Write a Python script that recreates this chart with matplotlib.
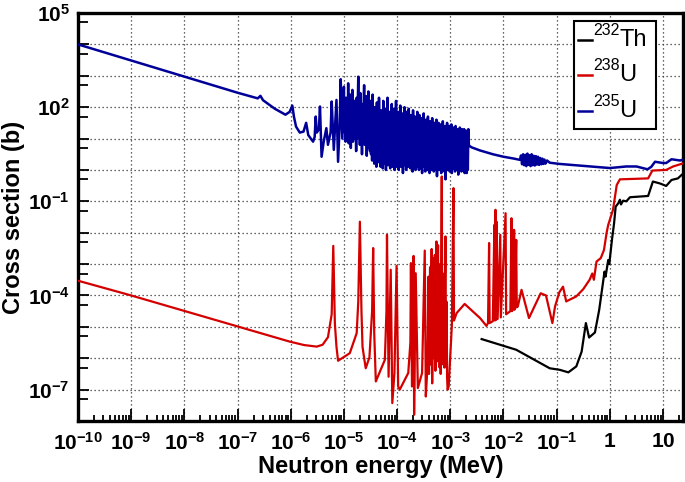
import matplotlib
matplotlib.use('Agg')
import matplotlib.pyplot as plt
import numpy as np
from matplotlib.ticker import FixedLocator, FixedFormatter, NullFormatter
from matplotlib.patches import Rectangle
from matplotlib.lines import Line2D

plt.rcParams['font.family'] = ['Liberation Sans', 'DejaVu Sans']
plt.rcParams['mathtext.fontset'] = 'custom'
plt.rcParams['mathtext.rm'] = 'Liberation Sans'
plt.rcParams['mathtext.bf'] = 'Liberation Sans:bold'
plt.rcParams['mathtext.it'] = 'Liberation Sans:italic'

# ---------------- data: (log10 E[MeV], log10 sigma[b]) ----------------
u235_low = [(-10.0, 4.00), (-7.0, 2.46), (-6.62, 2.28), (-6.57, 2.36), (-6.52, 2.22),
            (-6.30, 1.95), (-6.10, 1.76), (-6.02, 1.85), (-5.97, 2.05), (-5.94, 1.70),
            (-5.90, 1.38), (-5.83, 1.19), (-5.76, 1.22), (-5.71, 1.50), (-5.67, 1.11),
            (-5.58, 0.90), (-5.55, 1.05), (-5.53, 1.70), (-5.51, 1.19), (-5.47, 1.30),
            (-5.45, 2.02), (-5.42, 0.42), (-5.38, 0.90), (-5.33, 1.33), (-5.30, 0.80),
            (-5.25, 1.20), (-5.23, 2.18), (-5.19, 0.64), (-5.14, 2.23), (-5.11, 0.26),
            (-5.08, 1.40), (-5.06, 2.89), (-5.03, 1.00)]

u235_res = [(-5.00, 2.65), (-4.99, 1.2), (-4.98, 2.0), (-4.97, 0.9), (-4.96, 2.3),
            (-4.95, 1.1), (-4.94, 1.9), (-4.93, 1.0), (-4.92, 2.76), (-4.91, 0.85),
            (-4.90, 1.9), (-4.89, 1.2), (-4.88, 2.4), (-4.87, 0.7), (-4.86, 2.0),
            (-4.85, 1.1), (-4.84, 2.55), (-4.83, 0.9), (-4.82, 1.8), (-4.81, 1.0),
            (-4.80, 2.2), (-4.79, 1.2), (-4.78, 1.9), (-4.77, 0.6), (-4.76, 2.3),
            (-4.75, 1.0), (-4.74, 1.9), (-4.73, 2.97), (-4.72, 1.1), (-4.71, 2.0),
            (-4.70, 0.8), (-4.69, 2.45), (-4.68, 1.0), (-4.67, 1.8), (-4.66, 0.5),
            (-4.65, 2.1), (-4.64, 1.05), (-4.63, 1.9), (-4.62, 2.7), (-4.61, 0.8),
            (-4.60, 1.8), (-4.59, 1.0), (-4.58, 2.35), (-4.57, 0.45), (-4.56, 1.7),
            (-4.55, 0.9), (-4.54, 2.5), (-4.53, 0.7), (-4.52, 1.9), (-4.51, 0.6),
            (-4.50, 2.2), (-4.49, 0.5), (-4.48, 1.7), (-4.47, 0.3), (-4.46, 2.4),
            (-4.45, 0.6), (-4.44, 1.6), (-4.43, 0.2), (-4.42, 2.0), (-4.41, 0.5),
            (-4.40, 1.75), (-4.39, 0.1), (-4.38, 2.15), (-4.37, 0.4), (-4.36, 1.6),
            (-4.35, 0.25), (-4.34, 2.3), (-4.33, 0.3), (-4.32, 1.7), (-4.31, 0.1),
            (-4.30, 1.9), (-4.29, 0.4), (-4.28, 1.55), (-4.27, 0.05), (-4.26, 2.2),
            (-4.25, 0.3), (-4.24, 1.65), (-4.23, 0.2), (-4.22, 1.95), (-4.21, 0.0),
            (-4.20, 1.7), (-4.19, 0.35), (-4.18, 2.3), (-4.17, 0.15), (-4.16, 1.6),
            (-4.15, 0.3), (-4.14, 1.85), (-4.13, 0.05), (-4.12, 1.6), (-4.11, 0.25),
            (-4.10, 2.1), (-4.09, 0.1), (-4.08, 1.7), (-4.07, 0.3), (-4.06, 1.95),
            (-4.05, 0.0), (-4.04, 1.55), (-4.03, 0.2), (-4.02, 2.2), (-4.01, 0.1),
            (-4.00, 1.6), (-3.99, 0.3), (-3.98, 1.85), (-3.97, 0.0), (-3.96, 1.55),
            (-3.95, 0.25), (-3.94, 2.05), (-3.93, 0.1), (-3.92, 1.65), (-3.91, 0.3),
            (-3.90, 1.8), (-3.89, -0.1), (-3.88, 1.5), (-3.87, 0.2), (-3.86, 2.0),
            (-3.85, 0.15), (-3.84, 1.6), (-3.83, 0.0), (-3.82, 1.85), (-3.81, 0.2),
            (-3.80, 1.5), (-3.79, 0.1), (-3.78, 1.95), (-3.77, 0.3), (-3.76, 1.45),
            (-3.75, 0.05), (-3.74, 1.75), (-3.73, 0.2), (-3.72, 1.5), (-3.71, -0.05),
            (-3.70, 1.9), (-3.69, 0.15), (-3.68, 1.45), (-3.67, 0.25), (-3.66, 1.7),
            (-3.65, 0.0), (-3.64, 1.4), (-3.63, 0.2), (-3.62, 1.85), (-3.61, 0.1),
            (-3.60, 1.45), (-3.59, 0.0), (-3.58, 1.75), (-3.57, 0.2), (-3.56, 1.35),
            (-3.55, 0.05), (-3.54, 1.65), (-3.53, -0.1), (-3.52, 1.3), (-3.51, 0.15),
            (-3.50, 1.8), (-3.49, 0.1), (-3.48, 1.35), (-3.47, -0.05), (-3.46, 1.6),
            (-3.45, 0.2), (-3.44, 1.3), (-3.43, 0.0), (-3.42, 1.7), (-3.41, 0.15),
            (-3.40, 1.35), (-3.39, -0.1), (-3.38, 1.55), (-3.37, 0.1), (-3.36, 1.25),
            (-3.35, 0.0), (-3.34, 1.65), (-3.33, 0.15), (-3.32, 1.3), (-3.31, -0.05),
            (-3.30, 1.5), (-3.29, 0.2), (-3.28, 1.2), (-3.27, 0.0), (-3.26, 1.6),
            (-3.25, -0.2), (-3.24, 1.3), (-3.23, 0.1), (-3.22, 1.5), (-3.21, 0.0),
            (-3.20, 1.25), (-3.19, 0.15), (-3.18, 1.45), (-3.17, -0.1), (-3.16, 1.25),
            (-3.15, 0.05), (-3.14, 1.55), (-3.13, 0.2), (-3.12, 1.2), (-3.11, -0.05),
            (-3.10, 1.4), (-3.09, -0.3), (-3.08, 1.25), (-3.07, 0.1), (-3.06, 1.5),
            (-3.05, 0.0), (-3.04, 1.2), (-3.03, 0.15), (-3.02, 1.4), (-3.01, -0.05),
            (-3.00, 1.25), (-2.99, 0.1), (-2.98, 1.45), (-2.97, -0.1), (-2.96, 1.15),
            (-2.95, 0.05), (-2.94, 1.35), (-2.93, 0.15), (-2.92, 1.2), (-2.91, -0.05),
            (-2.90, 1.4), (-2.89, 0.0), (-2.88, 1.15), (-2.87, 0.1), (-2.86, 1.3),
            (-2.85, -0.15), (-2.84, 1.2), (-2.83, 0.05), (-2.82, 1.35), (-2.81, 0.1),
            (-2.80, 1.1), (-2.79, -0.05), (-2.78, 1.3), (-2.77, 0.0), (-2.76, 1.15),
            (-2.75, 0.1), (-2.74, 1.3), (-2.73, -0.1), (-2.72, 1.1), (-2.71, 0.05),
            (-2.70, 1.25), (-2.69, -0.1), (-2.68, 1.15), (-2.67, 0.0), (-2.66, 1.3),
            (-2.65, 0.78)]

u235_high = [(-2.60, 0.72), (-2.44, 0.62), (-2.20, 0.50), (-2.00, 0.42), (-1.80, 0.36),
             (-1.69, 0.32), (-1.67, 0.46), (-1.65, 0.18), (-1.63, 0.50), (-1.61, 0.15),
             (-1.59, 0.48), (-1.57, 0.12), (-1.55, 0.52), (-1.53, 0.16), (-1.51, 0.47),
             (-1.49, 0.12), (-1.47, 0.50), (-1.45, 0.15), (-1.43, 0.45), (-1.41, 0.14),
             (-1.39, 0.44), (-1.37, 0.17), (-1.35, 0.42), (-1.33, 0.16), (-1.31, 0.38),
             (-1.29, 0.18), (-1.27, 0.36), (-1.25, 0.19), (-1.23, 0.33), (-1.21, 0.20),
             (-1.18, 0.30), (-1.13, 0.23), (-0.94, 0.19), (-0.51, 0.13), (0.00, 0.06),
             (0.31, 0.11), (0.50, 0.11), (0.71, 0.02), (0.78, 0.10), (0.85, 0.26),
             (1.00, 0.22), (1.06, 0.22), (1.16, 0.34), (1.32, 0.30), (1.38, 0.33)]

u238 = [(-10.0, -3.53), (-9.0, -4.00), (-6.02, -5.47), (-5.75, -5.58), (-5.51, -5.63),
        (-5.40, -5.57), (-5.30, -5.33), (-5.23, -4.60), (-5.20, -2.42), (-5.17, -4.90),
        (-5.14, -5.63), (-5.11, -6.08), (-4.89, -5.84), (-4.76, -5.20), (-4.73, -4.20),
        (-4.70, -1.65), (-4.67, -4.50), (-4.65, -5.64), (-4.59, -6.32), (-4.52, -5.97),
        (-4.47, -4.50), (-4.45, -2.49), (-4.43, -5.20), (-4.40, -6.74), (-4.23, -6.05),
        (-4.20, -4.50), (-4.19, -2.07), (-4.16, -6.59), (-4.12, -3.18), (-4.09, -7.43),
        (-4.05, -6.47), (-4.01, -3.06), (-3.98, -6.90), (-3.95, -7.00), (-3.79, -6.47),
        (-3.75, -5.50), (-3.74, -2.97), (-3.72, -6.90), (-3.69, -2.74), (-3.68, -7.80),
        (-3.65, -3.29), (-3.61, -6.95), (-3.53, -6.47), (-3.48, -2.57), (-3.46, -7.22),
        (-3.43, -6.30), (-3.41, -3.40), (-3.40, -6.50), (-3.38, -3.10), (-3.37, -6.20),
        (-3.35, -2.52), (-3.34, -6.80), (-3.33, -3.60), (-3.32, -2.81), (-3.31, -6.00),
        (-3.30, -3.30), (-3.29, -2.71), (-3.28, -6.40), (-3.27, -3.80), (-3.26, -2.28),
        (-3.25, -6.10), (-3.24, -3.20), (-3.23, -2.40), (-3.22, -5.90), (-3.21, -3.50),
        (-3.20, -6.30), (-3.19, -3.00), (-3.18, -6.50), (-3.17, -2.90), (-3.16, -0.21),
        (-3.15, -5.80), (-3.14, -3.30), (-3.13, -6.20), (-3.12, -3.90), (-3.11, -6.30),
        (-3.10, -3.50), (-3.09, -2.12), (-3.08, -6.20), (-3.07, -4.20), (-3.06, -6.60),
        (-3.05, -7.00), (-3.03, -6.90), (-2.97, -4.94), (-2.94, -0.58), (-2.93, -4.80),
        (-2.88, -4.56), (-2.73, -4.27), (-2.44, -4.72), (-2.32, -4.97), (-2.29, -4.88),
        (-2.27, -2.33), (-2.26, -4.88), (-2.20, -4.82), (-2.17, -1.75), (-2.16, -4.80),
        (-2.15, -1.27), (-2.14, -4.78), (-2.13, -1.65), (-2.11, -4.75), (-2.06, -2.07),
        (-2.05, -4.70), (-1.96, -1.38), (-1.95, -4.60), (-1.87, -4.50), (-1.85, -1.54),
        (-1.84, -4.50), (-1.83, -2.30), (-1.81, -4.45), (-1.80, -1.91), (-1.79, -4.45),
        (-1.76, -2.23), (-1.75, -4.38), (-1.73, -4.35), (-1.66, -3.82), (-1.52, -4.72),
        (-1.30, -3.93), (-1.20, -4.00), (-1.08, -4.88), (-1.03, -4.35), (-0.95, -3.90),
        (-0.88, -3.72), (-0.82, -4.19), (-0.63, -4.03), (-0.50, -3.80), (-0.38, -3.50),
        (-0.33, -3.30), (-0.30, -3.50), (-0.25, -2.92), (-0.17, -2.81), (-0.11, -2.55),
        (-0.06, -2.00), (-0.03, -1.75), (0.00, -1.59), (0.06, -1.27), (0.13, -0.48),
        (0.19, -0.30), (0.72, -0.27), (0.80, -0.02), (1.06, 0.00), (1.19, 0.11),
        (1.38, 0.21)]

th232 = [(-2.41, -5.39), (-1.76, -5.73), (-1.13, -6.32), (-0.94, -6.37), (-0.78, -6.45),
         (-0.63, -6.26), (-0.53, -5.79), (-0.45, -4.88), (-0.39, -5.34), (-0.28, -5.18),
         (-0.20, -4.46), (-0.13, -3.61), (-0.10, -3.24), (-0.08, -3.40), (-0.03, -2.87),
         (-0.01, -3.00), (0.04, -2.23), (0.08, -1.70), (0.11, -1.17), (0.16, -1.06),
         (0.19, -0.95), (0.21, -1.10), (0.25, -0.98), (0.31, -1.00), (0.38, -0.87),
         (0.72, -0.83), (0.81, -0.37), (0.94, -0.43), (1.06, -0.51), (1.16, -0.32),
         (1.28, -0.27), (1.35, -0.16), (1.38, -0.12)]

legend_labels = ['232', '238', '235']
legend_symbols = ['Th', 'U', 'U']
x_tick_exps = list(range(-10, 2))
x_tick_labels = [r'$\mathbf{10^{-10}}$', r'$\mathbf{10^{-9}}$', r'$\mathbf{10^{-8}}$',
                 r'$\mathbf{10^{-7}}$', r'$\mathbf{10^{-6}}$', r'$\mathbf{10^{-5}}$',
                 r'$\mathbf{10^{-4}}$', r'$\mathbf{10^{-3}}$', r'$\mathbf{10^{-2}}$',
                 r'$\mathbf{10^{-1}}$', r'$\mathbf{1}$', r'$\mathbf{10}$']
y_tick_exps = list(range(-8, 6))
y_label_map = {-7: r'$\mathbf{10^{-7}}$', -4: r'$\mathbf{10^{-4}}$',
               -1: r'$\mathbf{10^{-1}}$', 2: r'$\mathbf{10^{2}}$', 5: r'$\mathbf{10^{5}}$'}

BLUE = '#000099'
RED = '#d40000'
BLACK = '#000000'


def curve(pts):
    a = np.array(pts)
    return 10 ** a[:, 0], 10 ** a[:, 1]


fig = plt.figure(figsize=(6.85, 4.82), dpi=100)
ax = fig.add_axes([78 / 685, 1 - 421 / 482, 605 / 685, 408 / 482])
ax.set_xscale('log')
ax.set_yscale('log')

u235_all = u235_low + u235_res + u235_high
ax.plot(*curve(u238), color=RED, lw=1.6, zorder=3)
ax.plot(*curve(th232), color=BLACK, lw=1.6, zorder=3)
ax.plot(*curve(u235_all), color=BLUE, lw=1.8, zorder=4)

ax.set_xlim(1e-10, 10 ** 1.376)
ax.set_ylim(1e-8, 1e5)

# ticks
ax.xaxis.set_major_locator(FixedLocator([10.0 ** e for e in x_tick_exps]))
ax.xaxis.set_major_formatter(FixedFormatter(x_tick_labels))
x_minor = [m * 10.0 ** e for e in range(-10, 2) for m in range(2, 10)]
ax.xaxis.set_minor_locator(FixedLocator(x_minor))
ax.xaxis.set_minor_formatter(NullFormatter())

ax.yaxis.set_major_locator(FixedLocator([10.0 ** e for e in y_tick_exps]))
ax.yaxis.set_major_formatter(FixedFormatter([y_label_map.get(e, '') for e in y_tick_exps]))
ax.yaxis.set_minor_locator(FixedLocator([5 * 10.0 ** e for e in range(-8, 5)]))
ax.yaxis.set_minor_formatter(NullFormatter())

ax.tick_params(axis='both', which='both', direction='in', width=1.3, colors='black')
ax.tick_params(axis='x', which='major', length=9, pad=8, labelsize=15)
ax.tick_params(axis='x', which='minor', length=4.5)
ax.tick_params(axis='y', which='major', length=8, pad=6, labelsize=15)
ax.tick_params(axis='y', which='minor', length=7)

ax.grid(True, which='major', linestyle=(0, (1, 2.2)), color='#333333', lw=0.9)
for s in ax.spines.values():
    s.set_linewidth(2.4)

ax.set_xlabel('Neutron energy (MeV)', fontsize=17, fontweight='bold', labelpad=1)
ax.set_ylabel('Cross section (b)', fontsize=17, fontweight='bold', labelpad=2)

# legend (ROOT style box)
def fx(px):
    return px / 685


def fy(py):
    return 1 - py / 482


fig.patches.append(Rectangle((fx(574), fy(129)), fx(656) - fx(574), fy(21) - fy(129),
                             transform=fig.transFigure, fill=True, facecolor='white',
                             edgecolor='black', lw=1.5, zorder=10))
leg_colors = [BLACK, RED, BLUE]
leg_y = [40, 75, 111]
for lab, sym, col, yy in zip(legend_labels, legend_symbols, leg_colors, leg_y):
    fig.lines.append(Line2D([fx(578), fx(592)], [fy(yy), fy(yy)], transform=fig.transFigure,
                            color=col, lw=1.8, zorder=11))
    fig.text(fx(593), fy(yy - 5), lab, fontsize=11.5, ha='left', va='baseline', zorder=12)
    fig.text(fx(619), fy(yy + 6), sym, fontsize=17, ha='left', va='baseline', zorder=12)

fig.savefig('out.png', dpi=100)
